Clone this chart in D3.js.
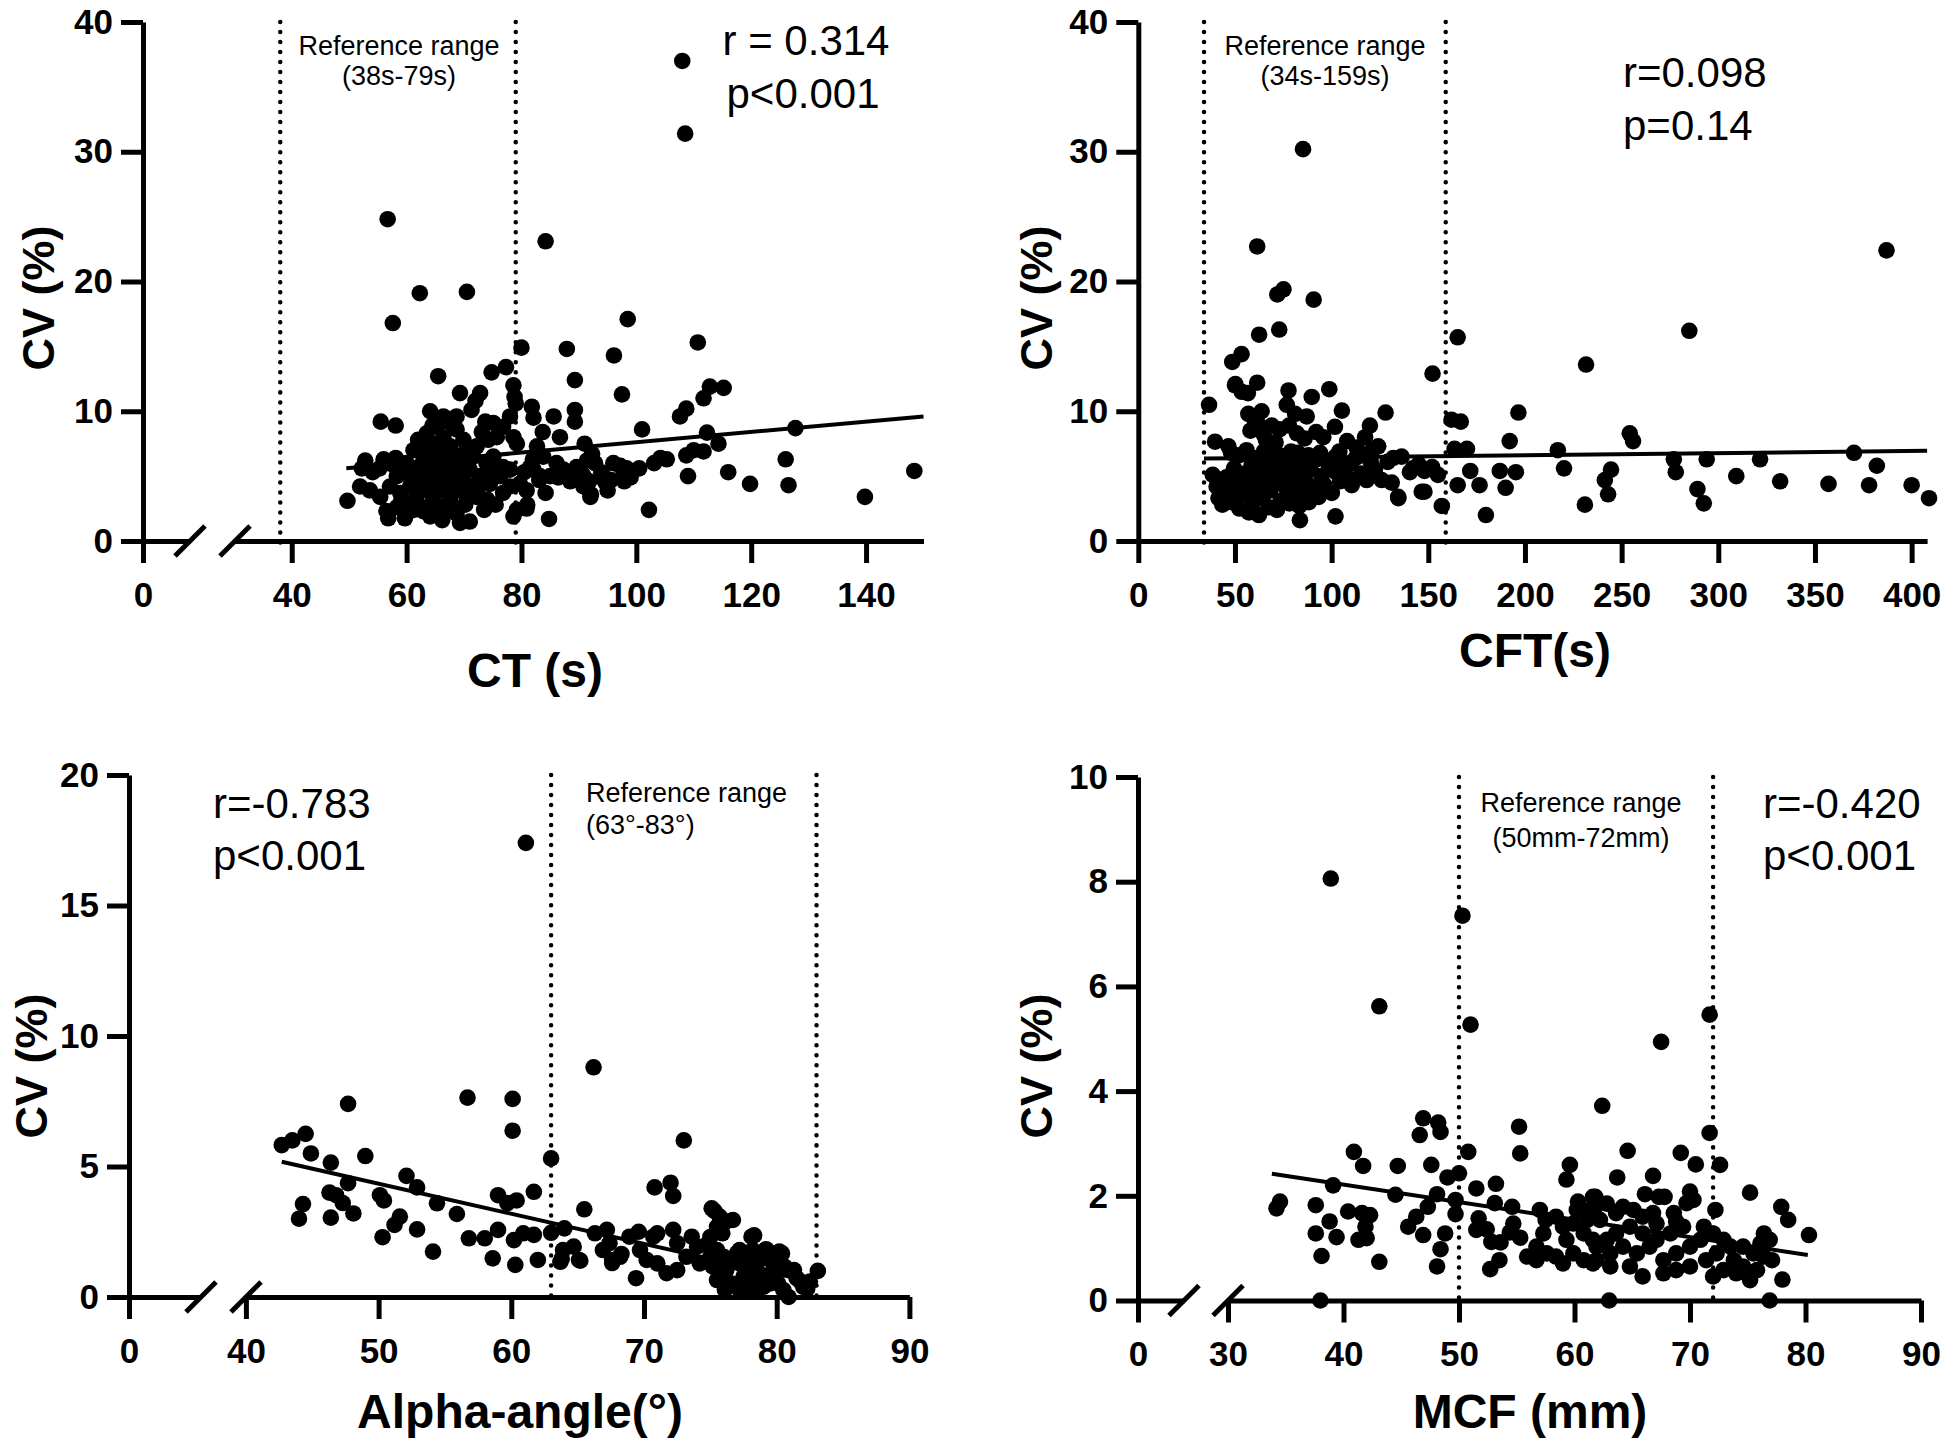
<!DOCTYPE html>
<html><head><meta charset="utf-8">
<script src="https://cdn.jsdelivr.net/npm/d3@7"></script>
<style>
html,body{margin:0;padding:0;background:#fff;}
svg{display:block;font-family:"Liberation Sans",Arial,Helvetica,sans-serif;}
</style></head><body>
<svg id="chart" width="1944" height="1447"></svg>
<script>
// ---------------- DATA ----------------
// Panel A: CT (s) vs CV (%)
const ctPoints = [
[108,37.0],[108.5,31.4],[56.7,24.8],[84.2,23.1],[62.3,19.1],[70.5,19.2],[57.6,16.8],[98.5,17.1],[110.7,15.3],[80,14.9],[87.9,14.8],[96.1,14.3],[77.3,13.4],[74.8,13.0],[65.5,12.7],[89.3,12.4],[78.6,12.0],[112.8,11.9],[115.2,11.8],[69.3,11.4],[72.8,11.4],[97.5,11.3],[78.8,11.1],[111.7,11.0],[79,10.6],[72,10.8],[81.8,10.35],[89.3,10.1],[71.3,10.1],[108.7,10.2],[107.6,9.6],[64.1,10.0],[78,9.6],[85.6,9.6],[89.3,9.2],[82.1,9.5],[55.5,9.2],[58.1,8.9],[101,8.6],[127.7,8.7],[112.3,8.35],[114.3,7.5],[83.7,8.4],[86.7,8.0],[91,7.5],[104.2,6.4],[105.3,6.3],[103.1,6.0],[108.7,6.6],[111.7,6.9],[110,7.0],[126,6.3],[148.4,5.4],[116,5.3],[109,5.0],[119.8,4.4],[126.5,4.3],[139.8,3.4],[102.2,2.4],[84.8,1.7],[49.7,3.1],[82.7,7.3],
[92.3,6.7],[92.8,6.0],[93.9,5.3],[95.6,4.7],[97.2,5.8],[98.3,5.6],[99,4.9],[91.8,4.6],[90.7,5.1],[92.1,3.6],[94.5,4.6],[100.5,5.6],[97.9,4.6],[95,3.9],
[83.8,6.5],[81.5,5.7],[86.1,6.0],[87.3,5.5],[85,5.0],[89.6,5.7],[91.4,6.2],[94.3,5.0],[96,6.0],[97.7,5.5],[90.8,4.2],[92,3.4],[76.8,3.7],[78,4.2],[79.7,4.4],[80.9,3.9],[82.1,5.5],[83.2,5.0],[78.6,1.9],[79.2,2.4],[80.9,2.5],[80.5,5.3],[82,6.3],[83.1,4.7],[84.2,3.7],[81,2.8],[86.4,4.9],[88.5,4.6],
[66.4,9.6],[67.6,9.1],[65.2,8.8],[68.7,9.6],[62,7.8],[61.2,7.0],[63.5,8.3],[64.7,7.5],[66.4,8.0],[67.6,7.3],[68.7,8.6],[69.9,7.8],[70.5,7.0],[73.1,8.4],[74.2,7.8],[75.7,8.0],[72.2,7.3],[78.6,8.0],[79.2,7.5],[73.7,9.2],[75.1,9.1],[76.8,8.8],
[52.8,6.2],[56,6.3],[58.1,6.4],[52.2,5.6],[54.1,5.3],[55.3,5.6],[60,6.0],[61.2,5.2],[62.9,6.2],[64.1,5.5],[65.2,6.0],[66.4,5.2],[67.6,5.7],[68.7,5.0],[69.9,6.0],[71,5.5],[72.8,5.0],[73.9,6.0],[71.6,6.5],[75.1,6.5],[76.8,5.7],[78,5.5],[76.3,5.0],[58.3,5.0],[62.3,4.7],
[51.9,4.2],[53.6,3.9],[55.4,3.4],[57.1,4.2],[58.9,3.7],[60.6,4.2],[61.7,3.4],[63.5,3.9],[64.7,3.2],[66.4,3.9],[67.6,3.2],[68.7,3.9],[70.5,3.4],[72.2,3.4],[74,3.2],[74.5,4.4],[60,2.9],[63.5,2.6],
[56.8,1.75],[59.7,1.75],[62.9,2.3],[64.1,1.9],[65.8,1.9],[67.6,2.4],[69.3,1.4],[71,1.5],[61.2,2.4],[58.3,2.6],[68.7,2.1],
[63,6.8],[64.5,8.9],[65.8,7.0],[66.8,6.5],[63.8,4.5],[65,4.8],[67,4.4],[64.2,6.3],[66,9.2],[65.3,2.7],[67.3,2.8],[62.2,5.6],[68.2,6.7],[69.5,4.6],[70.8,4.3],[57.5,5.9],[59.5,5.5],[60.8,4.8],[56.5,2.3],[73.5,2.4],[75.5,2.8],[74.6,5.5],
[65.6,4.1],[66.9,5.9],[64.6,3.5],[63.3,7.4],[69.1,5.4],[70.2,2.8],[61.9,4.1],[59.1,3.2],[72.4,4.1],[66.2,1.6]
];
const ctFit = [[49.5,5.6],[150,9.6]];
const ctRef = [38,79];
const ctXTicks = [40,60,80,100,120,140];
const cvTicks40 = [0,10,20,30,40];

// Panel B: CFT (s) vs CV (%)
const cftPoints = [
[85.2,30.2],[61.5,22.7],[387,22.4],[71.9,19.0],[75.1,19.4],[90.7,18.6],[165.2,15.7],[285,16.2],[62.5,15.9],[72.9,16.3],[53.4,14.4],[48.6,13.8],[231.6,13.6],[152.2,12.9],[61.5,12.2],[50.2,12.1],[98.8,11.7],[77.7,11.6],[56.7,11.4],[89.7,11.1],[36.6,10.5],[162,9.35],[166.8,9.2],[196.6,9.9],[105.3,10.05],[127.9,9.9],[192.1,7.7],[254.2,8.3],[255.9,7.7],[217,7.0],[163.6,7.1],[170,7.1],[370.2,6.8],[382,5.8],[294,6.3],[277,6.3],[278,5.3],[321.6,6.3],[220.2,5.6],[244.5,5.5],[309.3,5.0],[332,4.6],[357,4.4],[378,4.3],[400,4.3],[409,3.3],[289.2,4.0],[292.5,2.9],[241.3,4.7],[243,3.6],[231,2.8],[195.3,5.3],[190,4.1],[187,5.4],[171.7,5.4],[165.2,4.3],[176.5,4.3],[179.8,2.0],[157,2.7],[148,3.8],[134.4,3.4],[102,1.9],[83.6,1.6],
[39.7,7.65],[46.6,7.3],[50,12.0],[53.5,11.5],[56.9,9.8],[63.8,10.0],[76.8,10.5],[81.1,9.8],[87.1,9.6],[101.7,8.8],[95.7,8.0],[119.8,8.9],[117.3,8.0],[124.1,7.3],[131.9,6.4],[136.2,6.5],[140.5,5.3],[125.9,4.7],[131.1,4.5],[134.5,3.3],[146.6,3.8],
[58,8.5],[60,9.4],[62,9.0],[64.5,8.3],[69,8.9],[73,8.6],[78,8.9],[82,8.3],[66,7.8],[71,7.6],[86,7.9],[92,8.4],[108,7.7],[113,7.2],[115,6.6],[121,7.0],[129,6.1],[145,5.9],[148,5.4],[152,5.7],[155,5.1],[142,5.6],[110,6.0],[104,6.9],
[48,6.8],[52,6.6],[56,7.0],[61,6.4],[65,6.9],[68,6.2],[72,6.7],[76,6.5],[79,6.9],[84,6.3],[88,6.6],[94,6.8],[98,6.2],[102,6.5],
[38.5,5.1],[40.5,4.2],[41.5,3.3],[43.5,2.8],[45.5,4.9],[46.8,3.8],[48.2,3.0],[49.5,5.6],[51.2,4.4],[52.3,2.5],[53.8,3.6],[55.1,5.2],[56.3,4.4],[57.2,2.2],[58.6,5.9],[59.4,3.0],[60.3,5.0],[61.2,4.0],[62.4,2.0],[63.5,6.1],[64.1,3.3],[65.3,5.4],[66.2,4.6],[67.4,2.6],[68.3,3.9],[69.6,5.8],[70.8,4.8],[71.7,2.4],[72.9,6.3],[73.6,3.1],[74.8,5.2],[75.9,4.2],[77.2,5.9],[78.1,2.9],[79.3,5.6],[80.2,3.6],[81.4,4.7],[82.6,6.8],[83.3,2.7],[84.7,5.1],[85.6,3.9],[86.4,6.1],[87.5,4.4],[88.3,3.0],[89.2,5.5],[90.4,4.0],[92.1,6.3],[93.3,3.4],[94.8,5.0],[96.2,4.3],[98.4,5.9],[100.1,3.7],[102.2,5.3],[104.3,4.6],[106.1,5.9],[108.2,4.9],[110.4,4.3],[112.5,6.4],[115.3,5.2],[118.1,4.7],[120.2,6.1],[122.4,5.5]
];
const cftFit = [[34,6.35],[408,6.95]];
const cftRef = [34,159];
const cftXTicks = [0,50,100,150,200,250,300,350,400];

// Panel C: Alpha-angle (deg) vs CV (%)
const alphaPoints = [
[42.7,5.82],[43.5,6.0],[44.5,6.25],[44.9,5.5],[46.4,5.15],[47.7,7.4],[49,5.4],[44.3,3.56],[44.0,3.0],[46.3,4.0],[46.8,3.9],[47.3,3.6],[48.1,3.2],[46.4,3.04],[47.7,4.36],[50.1,3.9],[50.4,3.7],[52.1,4.64],[52.9,4.2],[51.6,3.08],[51.2,2.76],[50.3,2.29],[52.9,2.59],[54.4,3.59],[54.1,1.74],[55.9,3.18],[56.7,7.64],[56.8,2.25],[58,2.25],[59,3.9],[59.7,3.6],[60.4,3.7],[59,2.57],[58.6,1.48],[60.1,7.59],[60.1,6.37],[61.7,4.03],[60.2,2.18],[60.9,2.44],[61.7,2.38],[60.3,1.23],[62,1.42],[63,5.31],[63,2.46],
[61.1,17.4],[66.2,8.8],[73.0,6.0],[70.8,4.2],[72,4.38],[72.2,3.87],[65.5,3.36],[64,2.63],[63.9,1.8],[64.7,1.93],[65.1,1.42],[63.7,1.35],
[66.3,2.44],[67.2,2.57],[67.4,2.06],[66.9,1.8],[67.6,1.42],[68.2,1.54],[68.9,2.31],[69.6,2.5],[69.7,1.8],[70.2,1.42],[70.7,2.31],[71,2.44],[72.2,2.57],[72.5,2.06],[73.6,2.31],[73.2,1.54],[74,1.93],[74.2,1.29],[69.4,0.72],[71,1.29],[71.7,0.91],[72.5,1.03],
[75.1,3.4],[75.7,3.08],[76.7,2.95],[75.5,2.69],[75.9,2.44],[75,2.3],[74.7,2.0],[78.1,2.31],
[75,1.54],[75.2,1.16],[75.5,0.65],[76,1.54],[76.2,1.03],[76.6,0.52],[77,1.67],[77.2,1.29],[77.5,0.78],[77.7,0.33],[78.2,1.8],[78.5,1.35],[78.7,0.91],[79,0.39],[79.2,1.8],[79.5,1.42],[79.7,0.97],[80.1,0.52],[80.4,1.67],[80.6,1.16],[80.9,0.0],[81.5,0.72],[82,0.39],[82.5,0.59],[83.1,1.0],[75.5,1.8],[77.2,1.8],[78.7,1.67],[79.7,1.67],[80.2,1.29],[81.3,1.03],[77.7,1.29],[76.5,1.42],[78.2,0.78],[79.5,0.52],[80.5,0.27],[76.1,0.27],[77.2,0.27],[78.5,0.27],
[78.3,2.36],[79.2,1.83],[80.2,1.74],[76.2,2.9],[75.3,3.3],[63.8,1.47],[65.2,1.39],[67.6,1.3],[68.3,1.65],[81.8,0.59],[82.3,0.32]
];
const alphaFit = [[42.7,5.18],[83,0.54]];
const alphaRef = [63,83];
const alphaXTicks = [40,50,60,70,80,90];
const cvTicks20 = [0,5,10,15,20];

// Panel D: MCF (mm) vs CV (%)
const mcfPoints = [
[34.5,1.89],[34.2,1.76],[37.6,1.82],[37.6,1.28],[38.1,0.85],[38,0.0],[38.8,1.51],[39.4,1.21],[39.1,2.2],[40.4,1.7],[40.9,2.84],[41.7,2.57],[41.3,1.16],[42,1.19],[41.9,1.41],[42.3,1.63],[41.6,1.67],[43.1,0.74],[44.7,2.57],[44.5,2.02],[45.6,1.41],[46.3,1.6],[46.9,1.25],[46.9,3.48],[48.2,3.4],[48.4,3.22],[46.6,3.16],[47.6,2.59],[47.3,1.79],[48.1,2.03],[48.8,1.28],[48.4,0.98],[48.1,0.65],[49,2.35],[50,2.43],[49.7,1.92],[49.7,1.65],[50.8,2.84],[51.5,2.14],[51.7,1.57],[51.5,1.35],[53.2,2.23],[53.1,1.86],[52.8,1.12],[53.5,0.77],[52.7,0.6],[55.2,3.32],[55.3,2.81],[54.6,1.79],[54.7,1.47],[54.4,1.3],[55.3,1.2],
[57.0,1.73],[57.5,1.54],[57.3,1.28],[58.4,1.6],[59.0,1.41],[59.6,2.59],[59.3,2.31],[60.3,1.89],[60.2,1.73],[59.9,1.47],[59.3,1.16],[61.6,1.98],[61.8,1.79],[61.1,1.54],[60.8,1.28],[61.6,1.16],[56.7,1.03],[57.6,0.9],[58.4,0.84],[59.0,0.71],[55.9,0.84],[56.7,0.77],[59.9,0.9],[60.8,0.77],[61.6,0.71],
[38.9,8.06],[50.3,7.35],[43.1,5.62],[51,5.27],[71.7,5.46],[53.6,1.11],[52.4,1.36],[63.7,2.35],[67.3,1.98],
[62.4,3.72],[64.6,2.86],[66.8,2.38],[69.2,2.82],[70.5,2.6],[71.7,3.2],[72.6,2.59],[72.2,1.73],[75.2,2.06],[77.9,1.79],[78.5,1.54],[80.3,1.25],[78.0,0.4],[76.9,0.0],[63,0.0],[67.8,1.98],[70,2.08],[70.3,1.92],[69.7,1.86],[66.1,2.03],[67.5,4.94],
[61.8,1.98],[62.8,1.85],[61.3,1.73],[62.2,1.54],[63.6,1.67],[64.2,1.79],[65.1,1.73],[65.9,1.6],[66.8,1.67],[67.1,1.47],[68.6,1.67],[68.8,1.51],[69.4,1.41],[68.3,1.28],[67.1,1.16],[65.9,1.28],[64.8,1.41],[63.6,1.28],[62.8,1.16],[61.9,1.03],[63.1,0.9],[64.2,1.03],[65.4,0.9],[66.5,1.03],[67.7,0.77],[68.8,0.9],[70.0,1.03],[70.9,1.16],[71.2,1.41],[72.0,1.28],[72.9,1.16],[73.5,1.03],[72.3,0.9],[71.4,0.77],[70.0,0.65],[68.8,0.58],[67.7,0.52],[65.9,0.46],[64.8,0.65],[63.1,0.65],[61.9,0.77],[73.8,0.77],[74.6,0.65],[75.8,0.58],[76.4,0.84],[76.1,1.09],[76.4,1.28],[76.9,1.16],[77.1,0.77],[75.5,0.9],[74.6,1.03],[74.0,0.52],[75.2,0.39],[72.0,0.46],[72.9,0.58]
];
const mcfFit = [[33.8,2.42],[80.2,0.87]];
const mcfRef = [50,72];
const mcfXTicks = [30,40,50,60,70,80,90];
const cvTicks10 = [0,2,4,6,8,10];

// ---------------- LAYOUT ----------------
const svg = d3.select('#chart');
const FONT = '"Liberation Sans",Arial,Helvetica,sans-serif';

const panels = [
  {points: ctPoints, fit: ctFit, ref: ctRef, xTicks: ctXTicks, yTicks: cvTicks40,
   xDomain:[30,150], xRange:[234.3,923.5], yDomain:[0,40], yRange:[541,22],
   x0:143, breaks:[190,235], refTop:22,
   xTitle:'CT (s)', xTitleX:535, xTitleY:687, yTitleX:54, yTitleY:298,
   refText:['Reference range','(38s-79s)'], refAnchor:'middle', refX:399, refY:[55,85],
   stat:['r = 0.314','p<0.001'], statAnchor:'middle', statX:[806,803], statY:[55,108]},
  {points: cftPoints, fit: cftFit, ref: cftRef, xTicks: cftXTicks, yTicks: cvTicks40,
   xDomain:[0,408], xRange:[1138.3,1927.1], yDomain:[0,40], yRange:[541,22],
   x0:1138.3, breaks:null, refTop:22,
   xTitle:'CFT(s)', xTitleX:1535, xTitleY:667, yTitleX:1052, yTitleY:298,
   refText:['Reference range','(34s-159s)'], refAnchor:'middle', refX:1325, refY:[55,85],
   stat:['r=0.098','p=0.14'], statAnchor:'start', statX:[1623,1623], statY:[87,140]},
  {points: alphaPoints, fit: alphaFit, ref: alphaRef, xTicks: alphaXTicks, yTicks: cvTicks20,
   xDomain:[40,90], xRange:[245.9,909.4], yDomain:[0,20], yRange:[1297,775],
   x0:129, breaks:[201,246], refTop:775,
   xTitle:'Alpha-angle(°)', xTitleX:520, xTitleY:1428, yTitleX:47, yTitleY:1066,
   refText:['Reference range','(63°-83°)'], refAnchor:'start', refX:586, refY:[802,834],
   stat:['r=-0.783','p<0.001'], statAnchor:'start', statX:[213,213], statY:[818,870]},
  {points: mcfPoints, fit: mcfFit, ref: mcfRef, xTicks: mcfXTicks, yTicks: cvTicks10,
   xDomain:[30,90], xRange:[1228,1921], yDomain:[0,10], yRange:[1300.5,777],
   x0:1138, breaks:[1184,1228], refTop:777,
   xTitle:'MCF (mm)', xTitleX:1530, xTitleY:1428, yTitleX:1052, yTitleY:1066,
   refText:['Reference range','(50mm-72mm)'], refAnchor:'middle', refX:1581, refY:[812,847],
   stat:['r=-0.420','p<0.001'], statAnchor:'start', statX:[1763,1763], statY:[818,870]}
];

const AXW = 5, TICK = 22, TFS = 35, R = 8.3;

function styleAxis(g){
  g.attr('font-family', null).attr('font-size', null);
  g.select('.domain').attr('stroke','#000').attr('stroke-width',AXW);
  g.selectAll('.tick line').attr('stroke','#000').attr('stroke-width',AXW);
  g.selectAll('.tick text').attr('fill','#000').attr('font-family',FONT)
    .attr('font-size',TFS).attr('font-weight','bold');
}

panels.forEach(p => {
  const x = d3.scaleLinear().domain(p.xDomain).range(p.xRange);
  const y = d3.scaleLinear().domain(p.yDomain).range(p.yRange);
  const yAxisY = p.yRange[0];
  const g = svg.append('g');

  // reference (dotted) lines
  p.ref.forEach(v => {
    g.append('line').attr('x1',x(v)).attr('x2',x(v))
      .attr('y1',p.refTop).attr('y2',yAxisY+4)
      .attr('stroke','#000').attr('stroke-width',4.5)
      .attr('stroke-linecap','round').attr('stroke-dasharray','0.01 10');
  });

  // y axis
  const gy = g.append('g').attr('transform',`translate(${p.x0},0)`)
    .call(d3.axisLeft(y).tickValues(p.yTicks).tickSize(TICK).tickSizeOuter(0).tickPadding(8).tickFormat(d3.format('d')));
  styleAxis(gy);

  // x axis (main segment)
  const gx = g.append('g').attr('transform',`translate(0,${yAxisY})`)
    .call(d3.axisBottom(x).tickValues(p.xTicks).tickSize(TICK).tickSizeOuter(0).tickPadding(19).tickFormat(d3.format('d')));
  styleAxis(gx);

  if (p.breaks) {
    // zero segment before the axis break
    const z = d3.scaleLinear().domain([0,1]).range([p.x0, p.breaks[0]]);
    const gz = g.append('g').attr('transform',`translate(0,${yAxisY})`)
      .call(d3.axisBottom(z).tickValues([0]).tickSize(TICK).tickSizeOuter(0).tickPadding(19).tickFormat(d3.format('d')));
    styleAxis(gz);
    p.breaks.forEach(bx => {
      g.append('line').attr('x1',bx-15).attr('y1',yAxisY+15).attr('x2',bx+15).attr('y2',yAxisY-15)
        .attr('stroke','#000').attr('stroke-width',AXW);
    });
  }

  // regression line
  g.append('path').datum(p.fit)
    .attr('d', d3.line().x(d=>x(d[0])).y(d=>y(d[1])))
    .attr('fill','none').attr('stroke','#000').attr('stroke-width',4);

  // points
  g.append('g').selectAll('circle').data(p.points).join('circle')
    .attr('cx',d=>x(d[0])).attr('cy',d=>y(d[1])).attr('r',R).attr('fill','#000');

  // titles
  g.append('text').attr('x',p.xTitleX).attr('y',p.xTitleY).attr('text-anchor','middle')
    .attr('font-family',FONT).attr('font-weight','bold').attr('font-size',48).text(p.xTitle);
  g.append('text').attr('transform',`translate(${p.yTitleX},${p.yTitleY}) rotate(-90)`)
    .attr('text-anchor','middle').attr('font-family',FONT).attr('font-weight','bold')
    .attr('font-size',45).text('CV (%)');

  // annotations
  p.refText.forEach((t,i) => {
    g.append('text').attr('x',p.refX).attr('y',p.refY[i]).attr('text-anchor',p.refAnchor)
      .attr('font-family',FONT).attr('font-size',27).text(t);
  });
  p.stat.forEach((t,i) => {
    g.append('text').attr('x',p.statX[i]).attr('y',p.statY[i]).attr('text-anchor',p.statAnchor)
      .attr('font-family',FONT).attr('font-size',42).text(t);
  });
});
</script>
</body></html>
